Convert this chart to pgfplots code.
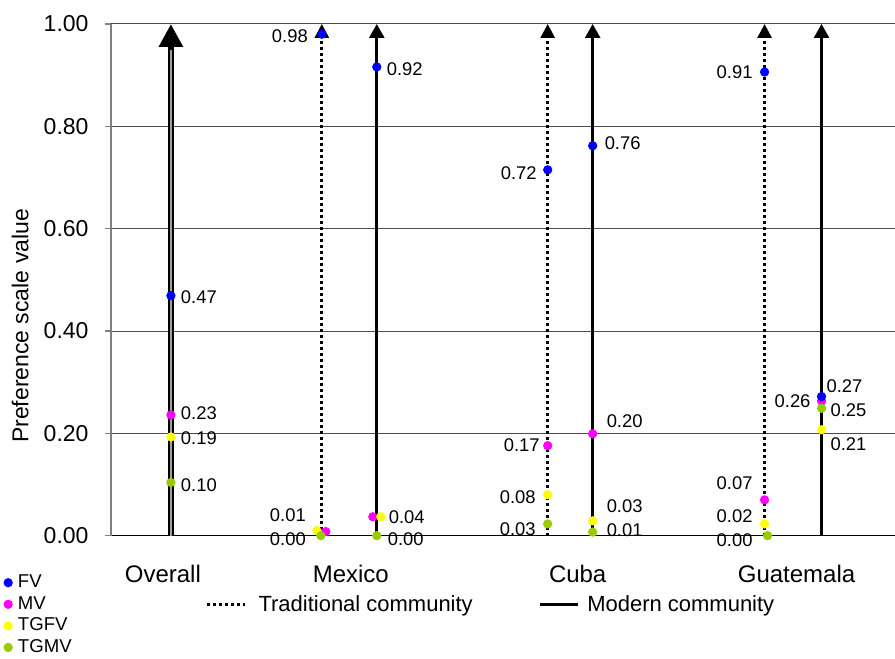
\documentclass[border=0pt]{standalone}
\usepackage{fontspec}
\setmainfont{Liberation Sans}
\usepackage{pgfplots}
\pgfplotsset{compat=1.18}
\usetikzlibrary{arrows.meta}
\definecolor{fvblue}{RGB}{0,0,255}
\definecolor{mvmag}{RGB}{255,0,255}
\definecolor{tgfvyel}{RGB}{255,255,0}
\definecolor{tgmvgrn}{RGB}{153,204,0}
\tikzset{
  lab/.style={font=\fontsize{9.2}{10}\selectfont, inner sep=0pt, anchor=center},
  trad/.style={black, line width=1.4pt, dash pattern=on 1.5pt off 1.5pt, -{Triangle[length=7pt,width=7pt]}},
  modern/.style={black, line width=1.3pt, -{Triangle[length=7pt,width=7.5pt]}},
}
\begin{document}
\begin{tikzpicture}
\begin{axis}[
  name=ax, scale only axis, width=392pt, height=256pt,
  xmin=111, xmax=895, ymin=0, ymax=1,
  clip=false,
  axis x line*=bottom, axis y line*=left,
  x axis line style={black, line width=0.5pt, -},
  y axis line style={gray, line width=0.6pt, -},
  xtick={163,351,578,797}, xticklabels={Overall,Mexico,Cuba,Guatemala},
  xtick style={draw=none},
  ytick={0,0.2,0.4,0.6,0.8,1},
  ytick style={gray, line width=0.6pt},
  tick align=outside, major tick length=3pt,
  ymajorgrids, grid style={black!70, line width=0.5pt},
  tick label style={font=\fontsize{11.5}{13}\selectfont},
  /pgf/number format/assume math mode=true,
  yticklabel style={/pgf/number format/.cd, fixed, fixed zerofill, precision=2, /tikz/.cd, xshift=-4.7pt},
  xticklabel style={yshift=-8pt, font=\fontsize{12}{13}\selectfont},
  ylabel={Preference scale value},
  ylabel style={font=\fontsize{11.5}{13}\selectfont, at={(axis description cs:-0.116,0.41)}, anchor=center},
  legend cell align=left,
  legend image code/.code={\draw[#1] plot coordinates {(0pt,0pt)};},
  legend style={at={(rel axis cs:-0.137,-0.07)}, anchor=north west, draw=none, fill=none,
    inner sep=0pt, font=\fontsize{9.3}{10}\selectfont,
    nodes={inner ysep=0.9pt, inner xsep=2.8pt, text height=7pt, text depth=2pt}},
]
\addlegendimage{only marks, mark=*, mark size=2.1pt, fvblue}
\addlegendentry{FV}
\addlegendimage{only marks, mark=*, mark size=2.1pt, mvmag}
\addlegendentry{MV}
\addlegendimage{only marks, mark=*, mark size=2.1pt, tgfvyel}
\addlegendentry{TGFV}
\addlegendimage{only marks, mark=*, mark size=2.1pt, tgmvgrn}
\addlegendentry{TGMV}

% Overall: double arrow
\addplot[forget plot, black, line width=3pt, -{Triangle[length=11.5pt,width=11.5pt]}] coordinates {(171,0) (171,1)};
\addplot[forget plot, gray!75, line width=1.1pt] coordinates {(171,0) (171,0.95)};
% country arrows
\addplot[forget plot, trad] coordinates {(322,0) (322,1)};
\addplot[forget plot, modern] coordinates {(377,0) (377,1)};
\addplot[forget plot, trad] coordinates {(548,0) (548,1)};
\addplot[forget plot, modern] coordinates {(593,0) (593,1)};
\addplot[forget plot, trad] coordinates {(765,0) (765,1)};
\addplot[forget plot, modern] coordinates {(822,0) (822,1)};

% points
\addplot[forget plot, only marks, mark=*, mark size=2.1pt, mvmag] coordinates {
  (171,0.236) (326,0.008) (373,0.037) (548,0.176) (593,0.199) (765,0.070) (822,0.263)};
\addplot[forget plot, only marks, mark=*, mark size=2.1pt, tgfvyel] coordinates {
  (171,0.193) (317,0.010) (381,0.037) (548,0.080) (593,0.029) (765,0.023) (822,0.207)};
\addplot[forget plot, only marks, mark=*, mark size=2.1pt, tgmvgrn] coordinates {
  (171,0.104) (321,0.000) (377,0.000) (548,0.023) (593,0.007) (768,0.000) (822,0.249)};
\addplot[forget plot, only marks, mark=*, mark size=2.1pt, fvblue] coordinates {
  (171,0.469) (322,0.980) (377,0.916) (548,0.715) (593,0.762) (765,0.906) (822,0.272)};

% value labels
\node[lab] at (axis cs:199,0.467) {0.47};
\node[lab] at (axis cs:199,0.240) {0.23};
\node[lab] at (axis cs:199,0.191) {0.19};
\node[lab] at (axis cs:199,0.098) {0.10};
\node[lab] at (axis cs:290,0.977) {0.98};
\node[lab] at (axis cs:288,0.041) {0.01};
\node[lab] at (axis cs:288,-0.006) {0.00};
\node[lab] at (axis cs:405,0.912) {0.92};
\node[lab] at (axis cs:407,0.037) {0.04};
\node[lab] at (axis cs:406,-0.006) {0.00};
\node[lab] at (axis cs:519,0.709) {0.72};
\node[lab] at (axis cs:522,0.176) {0.17};
\node[lab] at (axis cs:518,0.076) {0.08};
\node[lab] at (axis cs:518,0.012) {0.03};
\node[lab] at (axis cs:623,0.768) {0.76};
\node[lab] at (axis cs:625,0.223) {0.20};
\node[lab] at (axis cs:625,0.057) {0.03};
\node[lab] at (axis cs:625,0.010) {0.01};
\node[lab] at (axis cs:735,0.906) {0.91};
\node[lab] at (axis cs:735,0.102) {0.07};
\node[lab] at (axis cs:735,0.039) {0.02};
\node[lab] at (axis cs:735,-0.008) {0.00};
\node[lab] at (axis cs:845,0.293) {0.27};
\node[lab] at (axis cs:793,0.262) {0.26};
\node[lab] at (axis cs:849,0.246) {0.25};
\node[lab] at (axis cs:849,0.178) {0.21};
\end{axis}

% line-style legend
\begin{axis}[
  at={(ax.south west)}, anchor=south west,
  scale only axis, width=392pt, height=256pt,
  xmin=0, xmax=1, ymin=0, ymax=1, hide axis,
  legend columns=2,
  legend image code/.code={\draw[#1] (0pt,0pt) -- (19pt,0pt);},
  legend style={at={(rel axis cs:0.1205,-0.1348)}, anchor=west, draw=none, fill=none,
    inner sep=0pt, font=\fontsize{11}{12}\selectfont},
]
\addlegendimage{black, line width=1.4pt, dash pattern=on 1.5pt off 1.5pt}
\addlegendentry{\hspace*{4pt}Traditional community\hspace*{31pt}}
\addlegendimage{black, line width=1.3pt}
\addlegendentry{\hspace*{2pt}Modern community}
\end{axis}

\path ([xshift=-55.5pt,yshift=-59pt]ax.south west) rectangle ([yshift=12pt]ax.north east);
\end{tikzpicture}
\end{document}
